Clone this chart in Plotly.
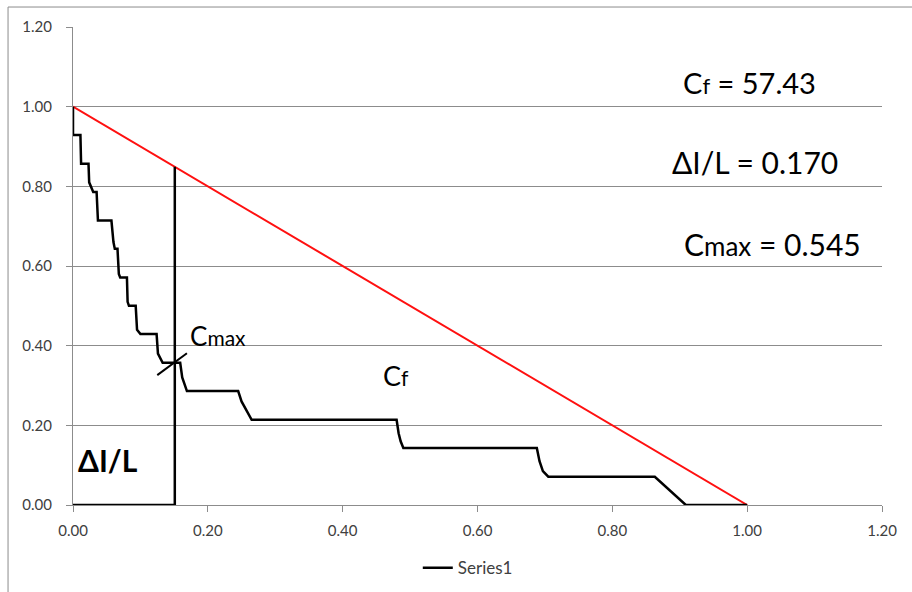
import plotly.graph_objects as go

# step curve (Series1)
CURVE_X = [0.000, 0.000, 0.011, 0.012, 0.023, 0.024, 0.030, 0.035, 0.037, 0.057,
           0.060, 0.062, 0.066, 0.068, 0.070, 0.080, 0.081, 0.083, 0.093, 0.095,
           0.100, 0.124, 0.126, 0.133, 0.159, 0.162, 0.169, 0.245, 0.250, 0.256,
           0.265, 0.480, 0.483, 0.486, 0.490, 0.688, 0.692, 0.697, 0.705, 0.863,
           0.880, 0.895, 0.909, 1.000]
CURVE_Y = [1.000, 0.929, 0.929, 0.857, 0.857, 0.810, 0.786, 0.786, 0.714, 0.714,
           0.660, 0.643, 0.643, 0.580, 0.571, 0.571, 0.510, 0.500, 0.500, 0.440,
           0.429, 0.429, 0.380, 0.357, 0.357, 0.320, 0.286, 0.286, 0.260, 0.240,
           0.214, 0.214, 0.180, 0.160, 0.143, 0.143, 0.110, 0.085, 0.071, 0.071,
           0.045, 0.020, 0.000, 0.000]

# straight line from (0,1) to (1,0)
DIAG_X = [0.0, 1.0]
DIAG_Y = [1.0, 0.0]

# Delta l / L marker: along the base, then up to the diagonal
DL_X = [0.0, 0.151, 0.151]
DL_Y = [0.0, 0.0, 0.849]

# small slash marking Cmax
SLASH_X = [0.125, 0.169]
SLASH_Y = [0.326, 0.381]

TICKS = [0.0, 0.2, 0.4, 0.6, 0.8, 1.0, 1.2]

FONT = 'Lato'
GRID = '#8c8c8c'
TXT = '#404040'

fig = go.Figure()

fig.add_trace(go.Scatter(x=DIAG_X, y=DIAG_Y, mode='lines',
                         line=dict(color='#ff1010', width=2), showlegend=False,
                         hoverinfo='skip'))
fig.add_trace(go.Scatter(x=DL_X, y=DL_Y, mode='lines',
                         line=dict(color='black', width=2.5), showlegend=False,
                         hoverinfo='skip'))
fig.add_trace(go.Scatter(x=SLASH_X, y=SLASH_Y, mode='lines',
                         line=dict(color='black', width=2), showlegend=False,
                         hoverinfo='skip'))
fig.add_trace(go.Scatter(x=CURVE_X, y=CURVE_Y, mode='lines', name='Series1',
                         line=dict(color='black', width=2.5)))

ann = [
    (1.004, 1.061, "C<span style='font-size:22px'>f</span> = 57.43", 29),
    (1.012, 0.861, "ΔI/L = 0.170", 30),
    (1.037, 0.655, "C<span style='font-size:26px'>max</span> = 0.545", 30),
    (0.215, 0.424, "C<span style='font-size:21px'>max</span>", 26),
    (0.479, 0.326, "C<span style='font-size:21px'>f</span>", 27),
    (0.052, 0.113, "<b>ΔI/L</b>", 30),
]
for x, y, t, s in ann:
    fig.add_annotation(x=x, y=y, text=t, showarrow=False, xanchor='center',
                       yanchor='middle', font=dict(family=FONT, size=s, color='black'))

# outer chart border (only top and left are inside the frame)
fig.add_shape(type='rect', xref='paper', yref='paper', x0=-0.0803, x1=1.2,
              y0=-0.4, y1=1.0418, line=dict(color='#8c8c8c', width=1))

fig.update_layout(
    width=912, height=592,
    margin=dict(l=73, r=30, t=27, b=87, autoexpand=False),
    paper_bgcolor='white', plot_bgcolor='white',
    font=dict(family=FONT, size=15, color=TXT),
    xaxis=dict(range=[0, 1.2], tickvals=TICKS, tickformat='.2f', showgrid=False,
               zeroline=False, showline=True, linecolor=GRID, linewidth=1,
               ticks='outside', ticklen=6, tickcolor=GRID, ticklabelstandoff=6),
    yaxis=dict(range=[0, 1.2], tickvals=TICKS, tickformat='.2f', showgrid=True,
               gridcolor=GRID, gridwidth=1, zeroline=False, showline=True,
               linecolor=GRID, linewidth=1, ticks='outside', ticklen=6,
               tickcolor=GRID, ticklabelstandoff=11),
    legend=dict(orientation='h', x=0.488, xanchor='center', y=-0.132, yanchor='middle',
                font=dict(family=FONT, size=17, color=TXT)),
)

# drop the default page margin so the figure sits at the window corner
fig.write_html("out.html", config={'displayModeBar': False},
               post_script="document.body.style.margin='0';")
